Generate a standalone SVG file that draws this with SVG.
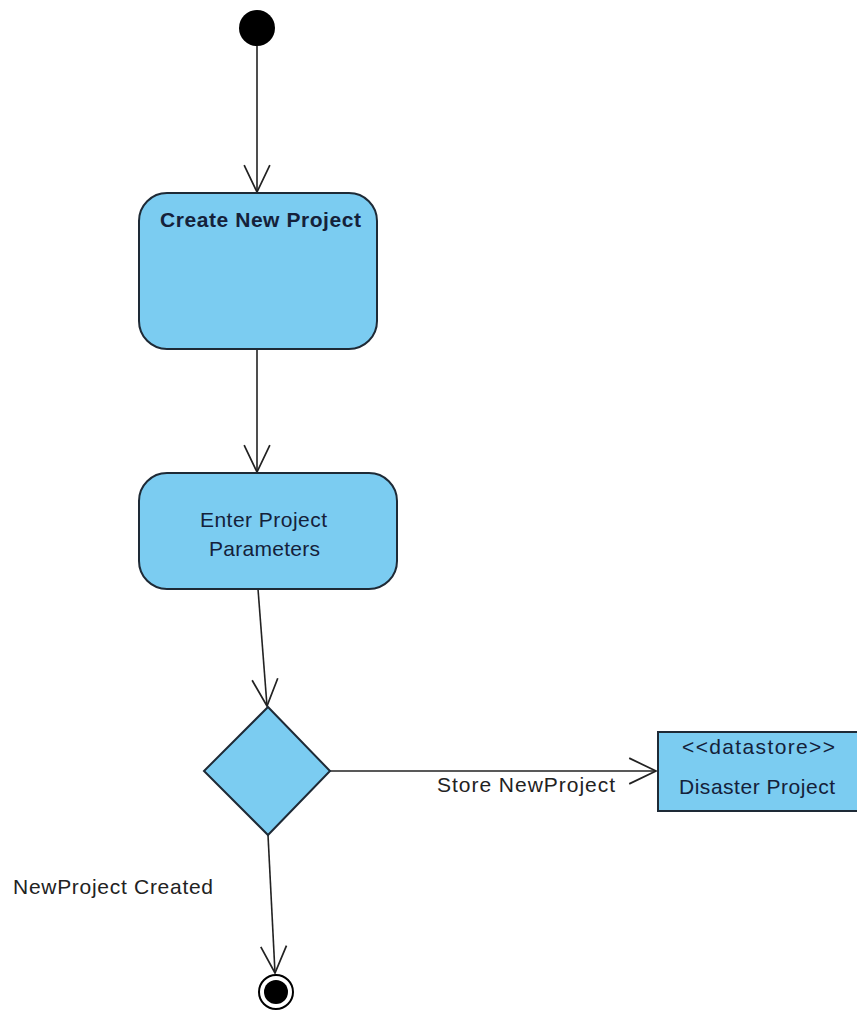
<svg xmlns="http://www.w3.org/2000/svg" width="857" height="1012" viewBox="0 0 857 1012">
  <defs>
    <style>
      .node { fill: #7BCCF1; stroke: #1E2A36; stroke-width: 2; }
      .edge { fill: none; stroke: #222; stroke-width: 1.6; }
      .lbl { font-family: "Liberation Sans", Arial, sans-serif; fill: #14213A; font-size: 21px; }
      .ext { font-family: "Liberation Sans", Arial, sans-serif; fill: #222; font-size: 21px; }
    </style>
    <!-- open V arrowhead used by every flow -->
    <marker id="open" markerUnits="userSpaceOnUse" markerWidth="30" markerHeight="30" viewBox="-26 -14 28 28" refX="0" refY="0" orient="auto">
      <path d="M-25,-12 L0,0 L-25,12" fill="none" stroke="#222" stroke-width="1.6"/>
    </marker>
  </defs>

  <rect width="857" height="1012" fill="#fff"/>

  <!-- control flows -->
  <g id="connectors">
    <line class="edge" x1="257" y1="46" x2="257" y2="192" marker-end="url(#open)"/>
    <line class="edge" x1="257" y1="349" x2="257" y2="472" marker-end="url(#open)"/>
    <line class="edge" x1="258" y1="589" x2="267" y2="706" marker-end="url(#open)"/>
    <line class="edge" x1="330" y1="771" x2="656" y2="771" marker-end="url(#open)"/>
    <line class="edge" x1="268" y1="835" x2="275" y2="973" marker-end="url(#open)"/>
    <text class="ext" x="437" y="792" textLength="178">Store NewProject</text>
    <text class="ext" x="13" y="894" textLength="200">NewProject Created</text>
  </g>

  <g id="start">
    <circle cx="257" cy="28" r="18" fill="#000"/>
  </g>

  <g id="create-new-project">
    <rect class="node" x="139" y="193" width="238" height="156" rx="28" ry="28"/>
    <text class="lbl" x="160" y="227" font-size="22" font-weight="bold" textLength="201">Create New Project</text>
  </g>

  <g id="enter-project-parameters">
    <rect class="node" x="139" y="473" width="258" height="116" rx="28" ry="28"/>
    <text class="lbl" x="200" y="527" textLength="127">Enter Project</text>
    <text class="lbl" x="209" y="556" textLength="111">Parameters</text>
  </g>

  <g id="decision">
    <polygon class="node" points="268,707 330,771 268,835 204,771"/>
  </g>

  <g id="datastore">
    <rect class="node" x="658" y="732" width="210" height="79"/>
    <text class="lbl" x="682" y="754" textLength="153">&lt;&lt;datastore&gt;&gt;</text>
    <text class="lbl" x="679" y="794" textLength="156">Disaster Project</text>
  </g>

  <g id="final">
    <circle cx="276" cy="992" r="17" fill="#fff" stroke="#000" stroke-width="2"/>
    <circle cx="276" cy="992" r="12" fill="#000"/>
  </g>
</svg>
